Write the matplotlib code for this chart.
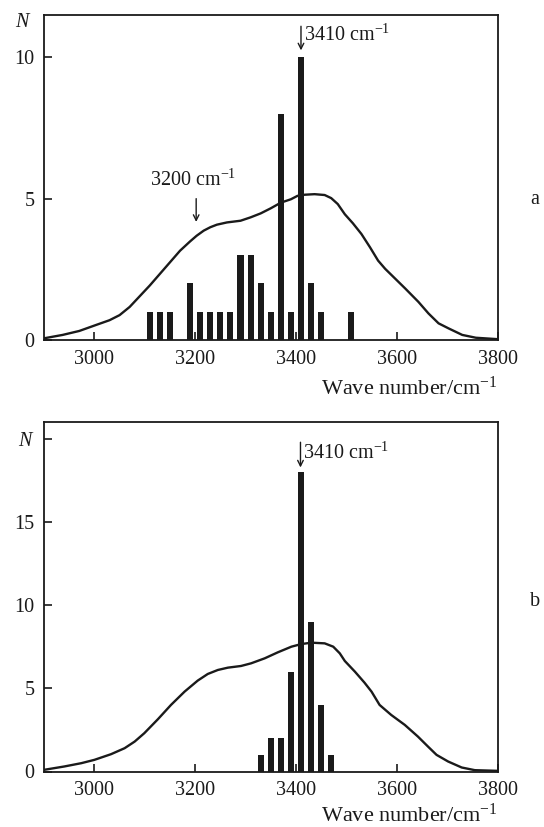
import matplotlib
matplotlib.use("Agg")
import matplotlib.pyplot as plt

plt.rcParams['font.family'] = ['Liberation Serif', 'DejaVu Serif']
plt.rcParams['mathtext.fontset'] = 'custom'
plt.rcParams['mathtext.rm'] = 'Liberation Serif'
plt.rcParams['mathtext.it'] = 'Liberation Serif:italic'

# Panel a histogram
bins_a = [3110, 3130, 3150, 3190, 3210, 3230, 3250, 3270, 3290, 3310, 3330,
          3350, 3370, 3390, 3410, 3430, 3450, 3510]
counts_a = [1, 1, 1, 2, 1, 1, 1, 1, 3, 3, 2, 1, 8, 1, 10, 2, 1, 1]

# Panel a envelope curve
curve_a_x = [2900, 2937, 2970, 3003, 3030, 3050, 3070, 3090, 3110, 3130, 3150,
             3170, 3190, 3203, 3217, 3230, 3243, 3263, 3290, 3310, 3330, 3350,
             3370, 3390, 3403, 3417, 3437, 3457, 3470, 3483, 3497, 3513, 3530,
             3547, 3563, 3577, 3597, 3617, 3643, 3663, 3683, 3703, 3730, 3757,
             3800]
curve_a_y = [0.06, 0.18, 0.32, 0.53, 0.70, 0.88, 1.17, 1.55, 1.93, 2.34, 2.75,
             3.16, 3.49, 3.69, 3.87, 3.99, 4.08, 4.16, 4.22, 4.34, 4.48, 4.66,
             4.86, 4.98, 5.10, 5.14, 5.16, 5.13, 5.02, 4.81, 4.45, 4.13, 3.75,
             3.28, 2.81, 2.52, 2.17, 1.82, 1.35, 0.94, 0.59, 0.41, 0.18, 0.08,
             0.03]

# Panel b histogram
bins_b = [3330, 3350, 3370, 3390, 3410, 3430, 3450, 3470]
counts_b = [1, 2, 2, 6, 18, 9, 4, 1]

# Panel b envelope curve
curve_b_x = [2900, 2940, 2974, 3000, 3033, 3060, 3080, 3099, 3126, 3152, 3179,
             3205, 3225, 3245, 3265, 3291, 3311, 3338, 3364, 3391, 3411, 3431,
             3457, 3474, 3487, 3497, 3517, 3536, 3550, 3566, 3589, 3616, 3642,
             3662, 3679, 3702, 3729, 3755, 3800]
curve_b_y = [0.10, 0.30, 0.50, 0.70, 1.04, 1.40, 1.80, 2.30, 3.14, 4.00, 4.80,
             5.46, 5.86, 6.10, 6.24, 6.34, 6.50, 6.80, 7.16, 7.50, 7.66, 7.74,
             7.70, 7.50, 7.10, 6.64, 6.00, 5.34, 4.80, 4.00, 3.40, 2.80, 2.10,
             1.50, 1.00, 0.60, 0.24, 0.08, 0.04]

xticks = [3000, 3200, 3400, 3600, 3800]

W, H = 544, 827
fig = plt.figure(figsize=(W / 100, H / 100), dpi=100)

def px_axes(left, top, right, bottom):
    return fig.add_axes([left / W, 1 - bottom / H, (right - left) / W, (bottom - top) / H])

FS = 14.5
INK = '#1a1a1a'

def style(ax, ylim, yticks, yticklabels):
    ax.set_xlim(2900, 3800)
    ax.set_ylim(*ylim)
    ax.set_xticks(xticks)
    ax.set_yticks(yticks)
    ax.set_yticklabels(yticklabels)
    ax.tick_params(direction='in', length=6, width=1.2, labelsize=FS,
                   top=False, right=False, pad=7, colors=INK)
    for s in ax.spines.values():
        s.set_linewidth(1.3)
        s.set_color(INK)

ax1 = px_axes(44, 15, 497.5, 340)
ax1.bar(bins_a, counts_a, width=12, color=INK, zorder=2)
ax1.plot(curve_a_x, curve_a_y, color=INK, lw=1.7, zorder=3,
         solid_joinstyle='round', solid_capstyle='round')
style(ax1, (0, 11.5), [0, 5, 10], ['0', '5', '10'])
ax1.text(-0.035, 11.25, 'N', transform=ax1.get_yaxis_transform(), ha='right', va='center',
         fontsize=FS, style='italic', color=INK)
ax1.annotate('', xy=(3410, 10.15), xytext=(3410, 11.2),
             arrowprops=dict(arrowstyle='->', lw=1.0, color=INK))
ax1.text(3415, 10.8, '3410 cm$^{-1}$', fontsize=FS, ha='left', va='center', color=INK)
ax1.annotate('', xy=(3202, 4.08), xytext=(3202, 5.1),
             arrowprops=dict(arrowstyle='->', lw=1.0, color=INK))
ax1.text(3110, 5.65, '3200 cm$^{-1}$', fontsize=FS, ha='left', va='center', color=INK)

ax2 = px_axes(44, 422, 497.5, 771.5)
ax2.bar(bins_b, counts_b, width=12, color=INK, zorder=2)
ax2.plot(curve_b_x, curve_b_y, color=INK, lw=1.7, zorder=3,
         solid_joinstyle='round', solid_capstyle='round')
style(ax2, (0, 21), [0, 5, 10, 15, 20], ['0', '5', '10', '15', '$N$'])
ax2.annotate('', xy=(3409, 18.1), xytext=(3409, 19.95),
             arrowprops=dict(arrowstyle='->', lw=1.0, color=INK))
ax2.text(3414, 19.1, '3410 cm$^{-1}$', fontsize=FS, ha='left', va='center', color=INK)

fig.text(497.5 / W, 1 - 388 / H, 'Wave number/cm$^{-1}$', fontsize=FS + 1.5,
         ha='right', va='center', color=INK)
fig.text(497.5 / W, 1 - 815 / H, 'Wave number/cm$^{-1}$', fontsize=FS + 1.5,
         ha='right', va='center', color=INK)
fig.text(535 / W, 1 - 200 / H, 'a', fontsize=FS, ha='center', va='center', color=INK)
fig.text(535 / W, 1 - 602 / H, 'b', fontsize=FS, ha='center', va='center', color=INK)

fig.savefig('out.png', dpi=100)
